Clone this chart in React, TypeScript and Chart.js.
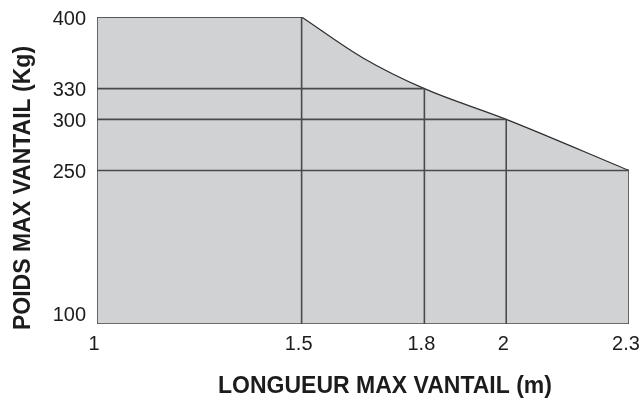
import { useEffect, useRef } from "react";
import { Chart, registerables } from "chart.js";

Chart.register(...registerables);

// ---- data ----
const lengths = [1, 1.5, 1.8, 2, 2.3];
const maxWeights = [400, 400, 330, 300, 250];
// limit curve (1.5 m → 2.3 m)
const curveLengths = [1.5, 1.65, 1.8, 2, 2.3];
const curveWeights = [400, 360, 330, 300, 250];
const xTickLabels = ["1", "1.5", "1.8", "2", "2.3"];
const yTickValues = [100, 250, 300, 330, 400];
const xTitle = "LONGUEUR MAX VANTAIL (m)";
const yTitle = "POIDS MAX VANTAIL (Kg)";
const X_MIN = 1;
const X_MAX = 2.3;
const Y_MIN = 100;
const Y_MAX = 400;

// ---- styles ----
const FILL = "#d1d2d4";
const OUTLINE = "#2e2e2e";
const GRID = "#4a4a4a";
const TEXT = "#1c1c1c";
const FONT = "'Liberation Sans', Arial, Helvetica, sans-serif";

const labelsPlugin = {
  id: "customLabels",
  afterDraw(chart: any) {
    const ctx = chart.ctx as CanvasRenderingContext2D;
    const xs = chart.scales.x;
    const ys = chart.scales.y;
    const area = chart.chartArea;
    ctx.save();
    ctx.fillStyle = TEXT;
    ctx.font = `20px ${FONT}`;
    ctx.textAlign = "right";
    ctx.textBaseline = "middle";
    yTickValues.forEach((v) => {
      let py = ys.getPixelForValue(v) + 2;
      if (v === Y_MIN) py = area.bottom - 9;
      ctx.fillText(String(v), area.left - 11, py);
    });
    ctx.textAlign = "center";
    lengths.forEach((v, i) => {
      ctx.fillText(xTickLabels[i], xs.getPixelForValue(v) - 3, area.bottom + 20);
    });
    ctx.font = `bold 23px ${FONT}`;
    ctx.fillText(xTitle, (area.left + area.right) / 2 + 22, 387);
    ctx.translate(24, 188);
    ctx.rotate(-Math.PI / 2);
    ctx.fillText(yTitle, 0, 0);
    ctx.restore();
  },
};

export default function App() {
  const ref = useRef<HTMLCanvasElement | null>(null);

  useEffect(() => {
    if (!ref.current) return;
    const flat = lengths
      .map((x, i) => ({ x, y: maxWeights[i] }))
      .filter((p) => p.y === Y_MAX);
    const curve = curveLengths.map((x, i) => ({ x, y: curveWeights[i] }));

    const lineDs = (data: { x: number; y: number }[], color = GRID, width = 1.6) => ({
      data,
      borderColor: color,
      borderWidth: width,
      pointRadius: 0,
      fill: false,
      tension: 0,
      order: 1,
    });

    const gridSets: any[] = [];
    gridSets.push(lineDs([{ x: X_MIN, y: Y_MIN }, { x: X_MIN, y: Y_MAX }]));
    gridSets.push(lineDs([{ x: X_MIN, y: Y_MIN }, { x: X_MAX, y: Y_MIN }]));
    lengths.forEach((x, i) => {
      if (i === 0) return;
      gridSets.push(lineDs([{ x, y: Y_MIN }, { x, y: maxWeights[i] }]));
      gridSets.push(lineDs([{ x: X_MIN, y: maxWeights[i] }, { x, y: maxWeights[i] }]));
    });

    const chart = new Chart(ref.current, {
      type: "line",
      data: {
        datasets: [
          ...gridSets,
          {
            data: flat,
            borderColor: OUTLINE,
            borderWidth: 1.2,
            backgroundColor: FILL,
            fill: { value: Y_MIN },
            pointRadius: 0,
            tension: 0,
            order: 2,
          },
          {
            data: curve,
            borderColor: OUTLINE,
            borderWidth: 1.2,
            backgroundColor: FILL,
            fill: { value: Y_MIN },
            pointRadius: 0,
            cubicInterpolationMode: "monotone",
            order: 2,
          },
        ],
      },
      options: {
        responsive: false,
        animation: false,
        layout: { padding: { left: 97, top: 17, right: 15, bottom: 77 } },
        scales: {
          x: { type: "linear", min: X_MIN, max: X_MAX, display: false },
          y: { type: "linear", min: Y_MIN, max: Y_MAX, display: false },
        },
        plugins: {
          legend: { display: false },
          tooltip: { enabled: false },
        },
        events: [],
      },
      plugins: [labelsPlugin],
    } as any);
    return () => chart.destroy();
  }, []);

  return (
    <div style={{ position: "fixed", left: 0, top: 0, width: 644, height: 401, background: "#fff" }}>
      <canvas ref={ref} width={644} height={401} style={{ display: "block" }} />
    </div>
  );
}
